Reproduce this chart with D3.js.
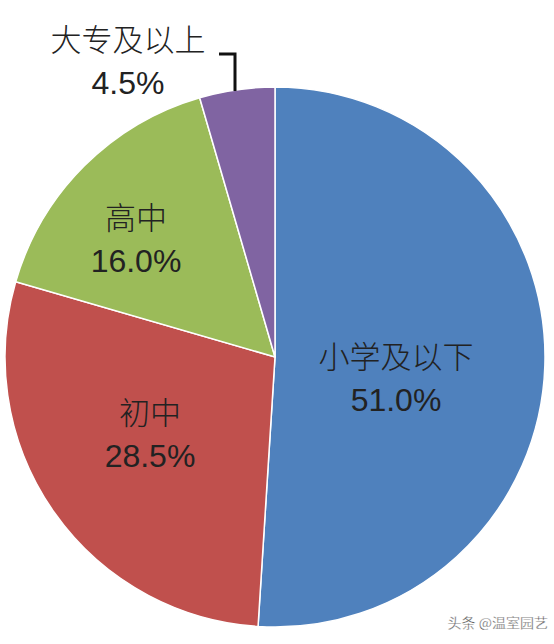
<!DOCTYPE html>
<html><head><meta charset="utf-8">
<script src="https://cdn.jsdelivr.net/npm/d3@7"></script>
<style>body{margin:0;background:#fff}</style>
</head><body>
<svg id="chart" width="554" height="644"></svg>
<script>
const categories = ["小学及以下", "初中", "高中", "大专及以上"];
const values = [51.0, 28.5, 16.0, 4.5];
const colors = ["#4f81bd", "#c0504d", "#9bbb59", "#8064a2"];
// label anchor points (centre of text block)
const labelPos = [[396, 376], [150, 432], [136, 237], [128, 59]];

const svg = d3.select("#chart");
const cx = 275, cy = 357, r = 270;
const g = svg.append("g").attr("transform", `translate(${cx},${cy})`);

const pie = d3.pie().sort(null).value(d => d)(values);
const arc = d3.arc().innerRadius(0).outerRadius(r);

g.selectAll("path").data(pie).enter().append("path")
  .attr("d", arc)
  .attr("fill", (d, i) => colors[i])
  .attr("stroke", "#fff")
  .attr("stroke-width", 1.5);

// leader line for small slice
svg.append("path")
  .attr("d", "M219 54 H235 V91")
  .attr("fill", "none").attr("stroke", "#111").attr("stroke-width", 3);

const font = "'Noto Sans CJK SC', 'Noto Sans', sans-serif";
categories.forEach((c, i) => {
  const [x, y] = labelPos[i];
  const t = svg.append("text").attr("x", x).attr("y", y)
    .attr("text-anchor", "middle").attr("font-family", font)
    .attr("font-size", 31).attr("font-weight", 300).attr("fill", "#222");
  t.append("tspan").attr("x", x).attr("dy", "-0.25em").text(c);
  t.append("tspan").attr("x", x).attr("dy", "1.35em")
    .attr("font-family", "'Liberation Sans', sans-serif").attr("font-weight", 400)
    .attr("font-size", 32)
    .text(values[i].toFixed(1) + "%");
});

svg.append("text").attr("x", 548).attr("y", 628).attr("text-anchor", "end")
  .attr("font-family", font).attr("font-size", 14).attr("fill", "#555")
  .attr("stroke", "#fff").attr("stroke-width", 0.3)
  .text("头条 @温室园艺");
</script>
</body></html>
